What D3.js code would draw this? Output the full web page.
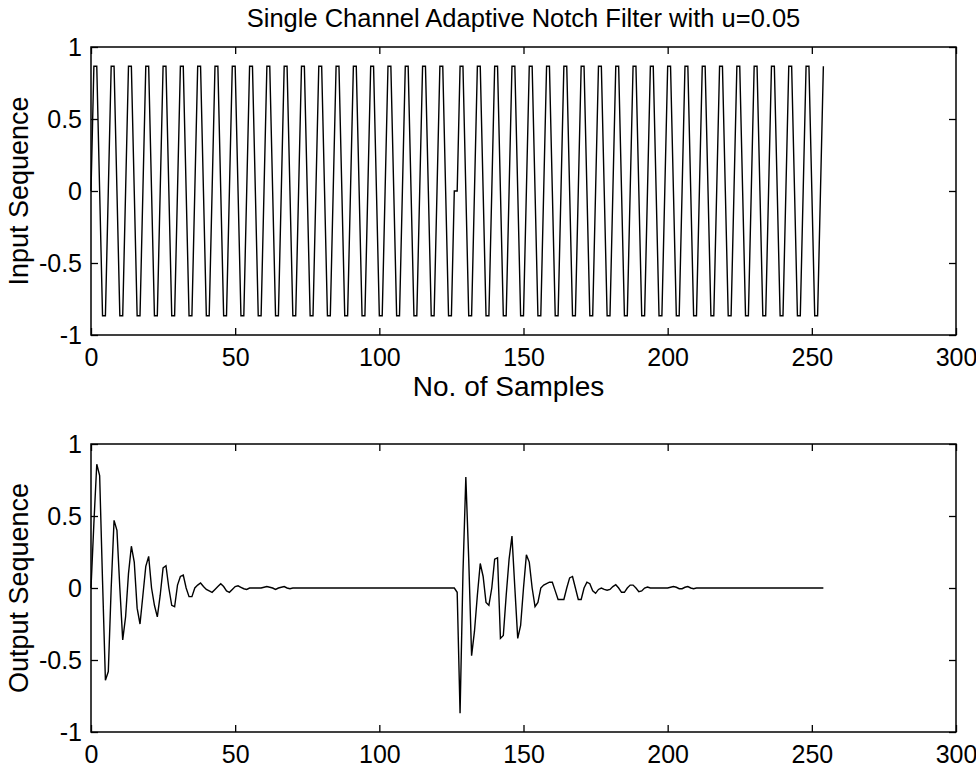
<!DOCTYPE html>
<html>
<head>
<meta charset="utf-8">
<script src="https://cdn.jsdelivr.net/npm/d3@7"></script>
<style>
  body { margin: 0; background: #fff; }
  text { font-family: "Liberation Sans", Arial, sans-serif; fill: #000; }
</style>
</head>
<body>
<svg id="chart" width="976" height="770"></svg>
<script>
var chartTitle = "Single Channel Adaptive Notch Filter with u=0.05";
var xLabel = "No. of Samples";
var topYLabel = "Input Sequence";
var bottomYLabel = "Output Sequence";

var xTicks = [0, 50, 100, 150, 200, 250, 300];
var yTicks = [-1, -0.5, 0, 0.5, 1];

// input samples, n = 0..254 (phase restart at n = 127)
var inputSeq = [
  0, 0.866, 0.866, 0, -0.866, -0.866,
  0, 0.866, 0.866, 0, -0.866, -0.866,
  0, 0.866, 0.866, 0, -0.866, -0.866,
  0, 0.866, 0.866, 0, -0.866, -0.866,
  0, 0.866, 0.866, 0, -0.866, -0.866,
  0, 0.866, 0.866, 0, -0.866, -0.866,
  0, 0.866, 0.866, 0, -0.866, -0.866,
  0, 0.866, 0.866, 0, -0.866, -0.866,
  0, 0.866, 0.866, 0, -0.866, -0.866,
  0, 0.866, 0.866, 0, -0.866, -0.866,
  0, 0.866, 0.866, 0, -0.866, -0.866,
  0, 0.866, 0.866, 0, -0.866, -0.866,
  0, 0.866, 0.866, 0, -0.866, -0.866,
  0, 0.866, 0.866, 0, -0.866, -0.866,
  0, 0.866, 0.866, 0, -0.866, -0.866,
  0, 0.866, 0.866, 0, -0.866, -0.866,
  0, 0.866, 0.866, 0, -0.866, -0.866,
  0, 0.866, 0.866, 0, -0.866, -0.866,
  0, 0.866, 0.866, 0, -0.866, -0.866,
  0, 0.866, 0.866, 0, -0.866, -0.866,
  0, 0.866, 0.866, 0, -0.866, -0.866,
  0,
  0, 0.866, 0.866, 0, -0.866, -0.866,
  0, 0.866, 0.866, 0, -0.866, -0.866,
  0, 0.866, 0.866, 0, -0.866, -0.866,
  0, 0.866, 0.866, 0, -0.866, -0.866,
  0, 0.866, 0.866, 0, -0.866, -0.866,
  0, 0.866, 0.866, 0, -0.866, -0.866,
  0, 0.866, 0.866, 0, -0.866, -0.866,
  0, 0.866, 0.866, 0, -0.866, -0.866,
  0, 0.866, 0.866, 0, -0.866, -0.866,
  0, 0.866, 0.866, 0, -0.866, -0.866,
  0, 0.866, 0.866, 0, -0.866, -0.866,
  0, 0.866, 0.866, 0, -0.866, -0.866,
  0, 0.866, 0.866, 0, -0.866, -0.866,
  0, 0.866, 0.866, 0, -0.866, -0.866,
  0, 0.866, 0.866, 0, -0.866, -0.866,
  0, 0.866, 0.866, 0, -0.866, -0.866,
  0, 0.866, 0.866, 0, -0.866, -0.866,
  0, 0.866, 0.866, 0, -0.866, -0.866,
  0, 0.866, 0.866, 0, -0.866, -0.866,
  0, 0.866, 0.866, 0, -0.866, -0.866,
  0, 0.866, 0.866, 0, -0.866, -0.866,
  0, 0.866
];

// output (error) samples, n = 0..254
var outputSeq = [
  0, 0.45, 0.86, 0.78, 0.05, -0.64, -0.58, 0, 0.47, 0.40,
  0, -0.36, -0.2, 0.1, 0.29, 0.18, -0.14, -0.25, -0.05, 0.15,
  0.22, 0, -0.12, -0.2, -0.05, 0.14, 0.155, 0, -0.12, -0.13,
  0.02, 0.08, 0.09, 0, -0.06, -0.06, 0, 0.02, 0.035, 0.01,
  -0.01, -0.02, -0.03, -0.01, 0.01, 0.03, 0.01, -0.02, -0.03, -0.01,
  0.01, 0.015, 0.005, -0.005, -0.01, 0, 0, 0, 0, 0,
  0.005, 0.01, 0.005, 0, -0.01, 0, 0.005, 0.01, 0, -0.005,
  0, 0, 0, 0, 0, 0, 0, 0, 0, 0,
  0, 0, 0, 0, 0, 0, 0, 0, 0, 0,
  0, 0, 0, 0, 0, 0, 0, 0, 0, 0,
  0, 0, 0, 0, 0, 0, 0, 0, 0, 0,
  0, 0, 0, 0, 0, 0, 0, 0, 0, 0,
  0, 0, 0, 0, 0, 0, 0, -0.03, -0.87, 0.1,
  0.77, 0.2, -0.47, -0.3, -0.05, 0.17, 0.08, -0.1, -0.12, 0,
  0.2, 0.21, -0.35, -0.33, -0.05, 0.2, 0.36, 0, -0.35, -0.26,
  0, 0.23, 0.18, 0, -0.13, -0.1, 0, 0.02, 0.03, 0.04,
  0.04, -0.02, -0.08, -0.08, -0.08, 0, 0.07, 0.08, 0, -0.08,
  -0.08, 0, 0.04, 0.03, -0.02, -0.037, -0.01, 0, -0.01, -0.015,
  -0.01, 0.01, 0.023, 0, -0.03, -0.03, 0, 0.02, 0.02, 0,
  -0.025, -0.02, 0, 0.007, 0, 0, 0, 0, 0, 0,
  0, 0.005, 0.01, 0.005, -0.005, -0.005, 0.005, 0.01, 0, -0.005,
  0, 0, 0, 0, 0, 0, 0, 0, 0, 0,
  0, 0, 0, 0, 0, 0, 0, 0, 0, 0,
  0, 0, 0, 0, 0, 0, 0, 0, 0, 0,
  0, 0, 0, 0, 0, 0, 0, 0, 0, 0,
  0, 0, 0, 0, 0
];

var svg = d3.select("#chart");

var plotLeft = 91,
    plotRight = 956;

var x = d3.scaleLinear().domain([0, 300]).range([plotLeft, plotRight]);

function drawPanel(series, top, bottom, yLabel) {
    var y = d3.scaleLinear().domain([-1, 1]).range([bottom, top]);
    var g = svg.append("g");
    var fmt = function (d) { return String(d); };

    g.append("g")
        .attr("transform", "translate(0," + bottom + ")")
        .call(d3.axisBottom(x).tickValues(xTicks).tickSizeInner(-7).tickSizeOuter(0).tickPadding(13).tickFormat(fmt));
    g.append("g")
        .attr("transform", "translate(0," + top + ")")
        .call(d3.axisTop(x).tickValues(xTicks).tickSizeInner(-7).tickSizeOuter(0).tickFormat(""));
    g.append("g")
        .attr("transform", "translate(" + plotLeft + ",0)")
        .call(d3.axisLeft(y).tickValues(yTicks).tickSizeInner(-7).tickSizeOuter(0).tickPadding(9).tickFormat(fmt));
    g.append("g")
        .attr("transform", "translate(" + plotRight + ",0)")
        .call(d3.axisRight(y).tickValues(yTicks).tickSizeInner(-7).tickSizeOuter(0).tickFormat(""));

    g.selectAll(".domain").remove();
    g.selectAll(".tick line").attr("stroke", "#000").attr("stroke-width", 1.3);
    g.selectAll(".tick text")
        .style("font-size", "25px")
        .style("font-family", "'Liberation Sans', Arial, sans-serif")
        .attr("fill", "#000");

    g.append("rect")
        .attr("x", plotLeft)
        .attr("y", top)
        .attr("width", plotRight - plotLeft)
        .attr("height", bottom - top)
        .attr("fill", "none")
        .attr("stroke", "#000")
        .attr("stroke-width", 1.5);

    var line = d3.line()
        .x(function (d, i) { return x(i); })
        .y(function (d) { return y(d); });

    g.append("path")
        .datum(series)
        .attr("d", line)
        .attr("fill", "none")
        .attr("stroke", "#000")
        .attr("stroke-width", 1.4)
        .attr("stroke-linejoin", "miter");

    g.append("text")
        .attr("transform", "translate(28," + ((top + bottom) / 2) + ") rotate(-90)")
        .attr("text-anchor", "middle")
        .style("font-size", "27px")
        .text(yLabel);
}

drawPanel(inputSeq, 47, 335, topYLabel);
drawPanel(outputSeq, 444, 732, bottomYLabel);

svg.append("text")
    .attr("x", (plotLeft + plotRight) / 2)
    .attr("y", 27)
    .attr("text-anchor", "middle")
    .style("font-size", "25.5px")
    .text(chartTitle);

svg.append("text")
    .attr("x", (plotLeft + plotRight) / 2 - 15)
    .attr("y", 396)
    .attr("text-anchor", "middle")
    .style("font-size", "28px")
    .text(xLabel);
</script>
</body>
</html>
